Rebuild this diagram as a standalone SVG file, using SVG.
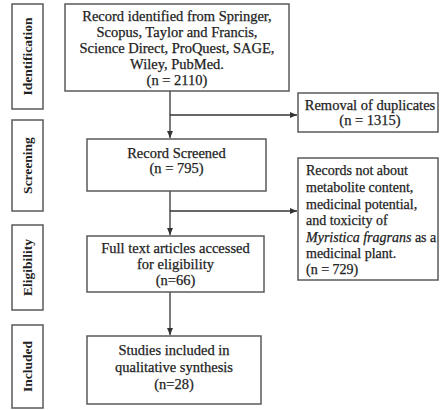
<svg xmlns="http://www.w3.org/2000/svg" width="440" height="410" viewBox="0 0 440 410">
<style>
.box{fill:#fff;stroke:#5a5a5a;stroke-width:1.5}
.t{font-family:"Liberation Serif",serif;font-size:14.5px;fill:#222;stroke:#222;stroke-width:0.25;text-anchor:middle}
.tl{font-family:"Liberation Serif",serif;font-size:14px;fill:#222;stroke:#222;stroke-width:0.25}
.ph{font-family:"Liberation Serif",serif;font-size:13.5px;font-weight:bold;fill:#222;text-anchor:middle}
.c{stroke:#333;stroke-width:1.3;fill:none}
</style>
<defs>
<marker id="ah" markerWidth="8" markerHeight="8" refX="7" refY="4" orient="auto" markerUnits="userSpaceOnUse">
<path d="M0,1 L7,4 L0,7 Z" fill="#333"/>
</marker>
</defs>
<rect width="440" height="410" fill="#fff"/>
<g id="phase-identification"><rect class="box" x="12" y="4" width="31" height="105"/><text class="ph" transform="translate(32,56.5) rotate(-90)">Identification</text></g>
<g id="phase-screening"><rect class="box" x="12" y="120" width="31" height="91"/><text class="ph" transform="translate(32,165.5) rotate(-90)">Screening</text></g>
<g id="phase-eligibility"><rect class="box" x="12" y="225" width="31" height="85"/><text class="ph" transform="translate(32,267.5) rotate(-90)">Eligibility</text></g>
<g id="phase-included"><rect class="box" x="12" y="325" width="31" height="83"/><text class="ph" transform="translate(32,366.5) rotate(-90)">Included</text></g>
<g id="connectors">
<line class="c" x1="170" y1="91" x2="170" y2="138" marker-end="url(#ah)"/>
<line class="c" x1="170" y1="115" x2="297" y2="115" marker-end="url(#ah)"/>
<line class="c" x1="170" y1="191" x2="170" y2="235" marker-end="url(#ah)"/>
<line class="c" x1="170" y1="211" x2="297" y2="211" marker-end="url(#ah)"/>
<line class="c" x1="170" y1="292" x2="170" y2="335" marker-end="url(#ah)"/>
</g>
<g id="identified"><rect class="box" x="65" y="4" width="224" height="87"/>
<text class="t" x="177" y="21">Record identified from Springer,</text>
<text class="t" x="177" y="37">Scopus, Taylor and Francis,</text>
<text class="t" x="177" y="53">Science Direct, ProQuest, SAGE,</text>
<text class="t" x="177" y="69">Wiley, PubMed.</text>
<text class="t" x="177" y="85">(n = 2110)</text></g>
<g id="duplicates"><rect class="box" x="298" y="93" width="140" height="39"/>
<text class="t" x="370" y="110">Removal of duplicates</text>
<text class="t" x="370" y="125">(n = 1315)</text></g>
<g id="screened"><rect class="box" x="87" y="139" width="179" height="52"/>
<text class="t" x="176.5" y="158">Record Screened</text>
<text class="t" x="176.5" y="173">(n = 795)</text></g>
<g id="excluded"><rect class="box" x="298" y="158" width="140" height="122"/>
<text class="tl" x="306" y="175">Records not about</text>
<text class="tl" x="306" y="192">metabolite content,</text>
<text class="tl" x="306" y="209">medicinal potential,</text>
<text class="tl" x="306" y="225">and toxicity of</text>
<text class="tl" x="306" y="242" font-size="13"><tspan font-style="italic">Myristica fragrans</tspan> as a</text>
<text class="tl" x="306" y="258">medicinal plant.</text>
<text class="tl" x="306" y="274">(n = 729)</text></g>
<g id="fulltext"><rect class="box" x="87" y="236" width="177" height="56"/>
<text class="t" x="175.5" y="253">Full text articles accessed</text>
<text class="t" x="175.5" y="269">for eligibility</text>
<text class="t" x="175.5" y="285">(n=66)</text></g>
<g id="included"><rect class="box" x="87" y="336" width="174" height="68"/>
<text class="t" x="174" y="355">Studies included in</text>
<text class="t" x="174" y="372">qualitative synthesis</text>
<text class="t" x="174" y="389">(n=28)</text></g>
</svg>
